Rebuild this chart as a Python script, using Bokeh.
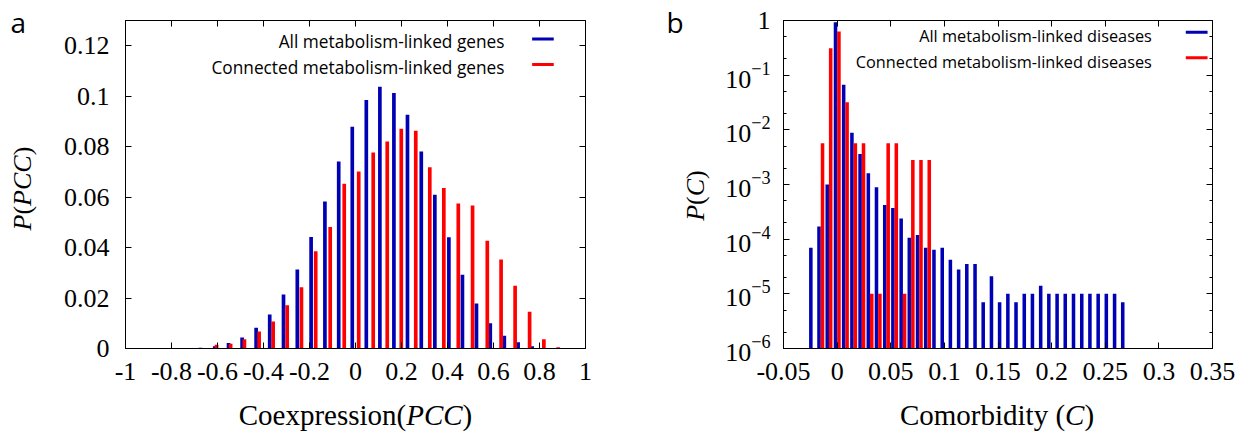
import numpy as np
from bokeh.plotting import figure
from bokeh.layouts import row, column
from bokeh.models import (Range1d, LinearAxis, LogAxis, FixedTicker, LogScale,
                          CustomJSTickFormatter, LogTickFormatter, Label)
from bokeh.core.properties import value
from bokeh.embed import file_html
from bokeh.resources import INLINE

# ---------------- panel a : coexpression (PCC) distributions ----------------
pcc_all_x = [-0.674, -0.612, -0.552, -0.493, -0.432, -0.373, -0.313, -0.253, -0.193,
             -0.133, -0.073, -0.014, 0.047, 0.106, 0.167, 0.226, 0.286, 0.345, 0.406,
             0.465, 0.526, 0.586, 0.647, 0.707, 0.768, 0.829]
pcc_all_p = [0.0003, 0.0009, 0.0022, 0.0044, 0.0082, 0.0135, 0.0214, 0.0313, 0.0442,
             0.0583, 0.0741, 0.0879, 0.0985, 0.1037, 0.1013, 0.0926, 0.0781, 0.0609,
             0.0441, 0.0292, 0.0178, 0.0100, 0.0051, 0.0025, 0.0009, 0.0002]
pcc_conn_x = [-0.732, -0.604, -0.543, -0.483, -0.419, -0.358, -0.297, -0.235, -0.173,
              -0.110, -0.049, 0.014, 0.077, 0.138, 0.199, 0.262, 0.323, 0.384, 0.447,
              0.509, 0.573, 0.633, 0.694, 0.757, 0.819, 0.881]
pcc_conn_p = [0.0002, 0.0015, 0.0019, 0.0037, 0.0067, 0.0107, 0.0171, 0.0243, 0.0385,
              0.0482, 0.0653, 0.0702, 0.0777, 0.0820, 0.0871, 0.0863, 0.0718, 0.0636,
              0.0575, 0.0567, 0.0427, 0.0353, 0.0249, 0.0146, 0.0037, 0.0005]

# ---------------- panel b : comorbidity (C) distributions ----------------
com_all_x = [-0.0245, -0.0169, -0.0092, -0.0015, 0.0061, 0.0138, 0.0214, 0.0291, 0.0367, 0.0444,
             0.0520, 0.0597, 0.0673, 0.0750, 0.0826, 0.0903, 0.0980, 0.1056, 0.1133, 0.1209,
             0.1286, 0.1362, 0.1439, 0.1515, 0.1592, 0.1668, 0.1745, 0.1821, 0.1898, 0.1974,
             0.2051, 0.2127, 0.2204, 0.2281, 0.2357, 0.2434, 0.2510, 0.2587, 0.2663]
com_all_p = [7e-5, 1.7e-4, 1.0e-3, 0.93, 0.067, 8.8e-3, 3.6e-3, 1.6e-3, 8.9e-4, 4.2e-4,
             3.7e-4, 2.4e-4, 1.06e-4, 1.19e-4, 7e-5, 6.4e-5, 7e-5, 4.2e-5, 2.8e-5, 3.5e-5,
             3.5e-5, 7e-6, 2.1e-5, 7e-6, 1e-5, 7e-6, 1e-5, 1e-5, 1.4e-5, 1e-5,
             1e-5, 1e-5, 1e-5, 1e-5, 1e-5, 1e-5, 1e-5, 1e-5, 7e-6]
com_conn_x = [-0.0136, -0.0060, 0.0017, 0.0093, 0.0170, 0.0246, 0.0323, 0.0399, 0.0476,
              0.0552, 0.0629, 0.0706, 0.0782, 0.0859]
com_conn_p = [5.7e-3, 0.31, 0.63, 0.032, 5.7e-3, 5.7e-3, 1e-5, 1e-5, 5.7e-3,
              5.7e-3, 1e-5, 2.8e-3, 2.8e-3, 2.8e-3]

# ---------------- ticks & labels ----------------
a_xticks = [-1, -0.8, -0.6, -0.4, -0.2, 0, 0.2, 0.4, 0.6, 0.8, 1]
a_yticks = [0, 0.02, 0.04, 0.06, 0.08, 0.1, 0.12]
b_xticks = [-0.05, 0, 0.05, 0.1, 0.15, 0.2, 0.25, 0.3, 0.35]
b_yticks = [1e-6, 1e-5, 1e-4, 1e-3, 1e-2, 1e-1, 1]
b_yminor = [2e-6, 5e-6, 2e-5, 5e-5, 2e-4, 5e-4, 2e-3, 5e-3, 2e-2, 5e-2, 0.2, 0.5]

a_legend = ["All metabolism-linked genes", "Connected metabolism-linked genes"]
b_legend = ["All metabolism-linked diseases", "Connected metabolism-linked diseases"]

a_xtitle = ["Coexpression(", "PCC", ")"]
a_ytitle = ["P", "(", "PCC", ")"]
b_xtitle = ["Comorbidity (", "C", ")"]
b_ytitle = ["P", "(", "C", ")"]

BLUE = "#0000b4"
RED = "#ff0000"
SERIF = "Liberation Serif"
SANS = "Open Sans"
H = 437

num_fmt = CustomJSTickFormatter(code="return (Math.round(tick*100)/100).toString();")


def style(ax, labels=True, standoff=10):
    ax.axis_line_color = "black"
    ax.major_tick_line_color = "black"
    ax.minor_tick_line_color = "black"
    ax.major_tick_in = 6
    ax.major_tick_out = 0
    ax.minor_tick_in = 3
    ax.minor_tick_out = 0
    if labels:
        ax.major_label_text_font = SERIF
        ax.major_label_text_font_size = "26px"
        ax.major_label_text_color = "black"
        ax.major_label_standoff = standoff
    else:
        ax.formatter = CustomJSTickFormatter(code="return '';")
        ax.major_label_text_font_size = "0px"
        ax.major_label_standoff = 0


def lab(p, x, y, text, size, font=SANS, align="right"):
    p.add_layout(Label(x=x, y=y, text=text, text_font=font, text_font_size=size,
                       text_align=align, text_baseline="middle", text_color="black"))


def text_fig(w, h):
    f = figure(width=w, height=h, x_range=Range1d(0, w), y_range=Range1d(0, h),
               x_axis_type=None, y_axis_type=None, output_backend="svg",
               toolbar_location=None, min_border=0, min_border_left=0, min_border_right=0,
               min_border_top=0, min_border_bottom=0, frame_align=False)
    f.outline_line_color = None
    f.grid.visible = False
    return f


def put(f, h, xs, ys, texts, styles, size, font=SERIF, angle=0.0):
    """xs / ys are screen positions (y measured from the top of this canvas)."""
    for x, y, t, s in zip(xs, ys, texts, styles):
        f.text(x=[x], y=[h - y], text=[t], text_font=value(font), text_font_size=value(size),
               text_font_style=value(s), text_align="left", text_baseline="alphabetic",
               angle=angle, text_color="black")


rot = np.pi / 2

# ======================= panel a =======================
p1 = figure(width=583, height=394, x_range=Range1d(-1, 1), y_range=Range1d(0, 0.13),
            x_axis_type=None, y_axis_type=None, output_backend="svg", toolbar_location=None,
            min_border_left=80, min_border_right=43, min_border_top=20, min_border_bottom=46,
            frame_align=False)
p1.outline_line_color = "black"

for side, labels in (("below", True), ("above", False)):
    ax = LinearAxis(ticker=FixedTicker(ticks=a_xticks), formatter=num_fmt)
    style(ax, labels, standoff=14)
    p1.add_layout(ax, side)
for side, labels in (("left", True), ("right", False)):
    ax = LinearAxis(ticker=FixedTicker(ticks=a_yticks), formatter=num_fmt)
    style(ax, labels, standoff=16)
    p1.add_layout(ax, side)

p1.vbar(x=pcc_all_x, top=pcc_all_p, bottom=0, width=0.016, fill_color=BLUE, line_color=None)
p1.vbar(x=pcc_conn_x, top=pcc_conn_p, bottom=0, width=0.016, fill_color=RED, line_color=None)

lab(p1, 0.648, 0.1217, a_legend[0], "17.3px")
lab(p1, 0.648, 0.1113, a_legend[1], "17.3px")
p1.segment(x0=[0.768, 0.768], x1=[0.862, 0.862], y0=[0.1227, 0.1126], y1=[0.1227, 0.1126],
           line_color=[BLUE, RED], line_width=3)

# y title + panel letter (x 0..45)
ya = text_fig(45, H)
put(ya, H, [22, 22, 22, 22], [230, 214.1, 205.4, 154.8], a_ytitle,
    ["italic", "normal", "italic", "normal"], "26px", angle=rot)
put(ya, H, [10], [21], ["a"], ["normal"], "28px", font=SANS)

# x title (x 45..628, y 394..437)
xa = text_fig(583, 43)
put(xa, 43, [193.2, 360.7, 417.1], [20.5, 20.5, 20.5], a_xtitle,
    ["normal", "italic", "normal"], "29px")

# ======================= panel b =======================
p2 = figure(width=526, height=394, x_range=Range1d(-0.05, 0.35), y_range=Range1d(1e-6, 1),
            x_axis_type=None, y_axis_type=None, output_backend="svg", toolbar_location=None,
            min_border_left=61, min_border_right=36, min_border_top=20, min_border_bottom=46,
            frame_align=False)
p2.outline_line_color = "black"
p2.y_scale = LogScale()

for side, labels in (("below", True), ("above", False)):
    ax = LinearAxis(ticker=FixedTicker(ticks=b_xticks), formatter=num_fmt)
    style(ax, labels, standoff=14)
    p2.add_layout(ax, side)
for side, labels in (("left", True), ("right", False)):
    ax = LogAxis(ticker=FixedTicker(ticks=b_yticks, minor_ticks=b_yminor))
    if labels:
        ax.formatter = LogTickFormatter()
        ax.major_label_overrides = {1: "1"}
    style(ax, labels, standoff=13)
    p2.add_layout(ax, side)

p2.vbar(x=com_all_x, top=com_all_p, bottom=1e-6, width=0.0033, fill_color=BLUE, line_color=None)
p2.vbar(x=com_conn_x, top=com_conn_p, bottom=1e-6, width=0.0033, fill_color=RED, line_color=None)

lab(p2, 0.2934, 0.516, b_legend[0], "16.3px")
lab(p2, 0.2934, 0.1726, b_legend[1], "16.3px")
p2.segment(x0=[0.3251, 0.3251], x1=[0.3454, 0.3454], y0=[0.611, 0.208], y1=[0.611, 0.208],
           line_color=[BLUE, RED], line_width=3)

# y title + panel letter (x 628..722)
yb = text_fig(94, H)
put(yb, H, [67, 67, 67, 67], [220.3, 204.4, 195.7, 178.4], b_ytitle,
    ["italic", "normal", "italic", "normal"], "26px", angle=rot)
put(yb, H, [38], [21], ["b"], ["normal"], "28px", font=SANS)

# x title (x 722..1248)
xb = text_fig(526, 43)
put(xb, 43, [177.4, 342.6, 361.9], [20.5, 20.5, 20.5], b_xtitle,
    ["normal", "italic", "normal"], "29px")

layout = row(ya, column(p1, xa), yb, column(p2, xb))
open("out.html", "w").write(file_html(layout, INLINE))
